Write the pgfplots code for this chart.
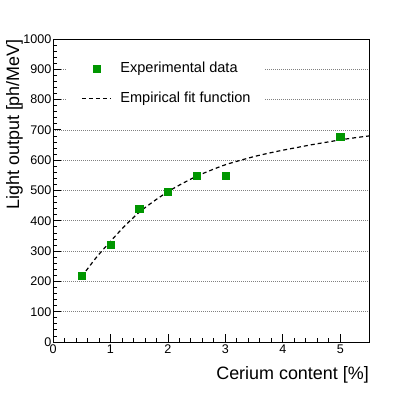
\documentclass[border=0pt]{standalone}
\usepackage{fontspec}
\setmainfont{Liberation Sans}
\usepackage{pgfplots}
\pgfplotsset{compat=1.18}
\definecolor{RootGreen}{HTML}{009600}
\definecolor{GridGray}{HTML}{808080}
\pgfplotsset{
  markimg/.style={legend image code/.code={\draw[##1] plot coordinates {(14.5bp,0bp)};}},
  lineimg/.style={legend image code/.code={\draw[##1] (0bp,0bp) -- (29bp,0bp);}},
}

\begin{document}
\begin{tikzpicture}
  \path[use as bounding box] (0,0) rectangle (411bp,393bp);
  \begin{axis}[
    name=ax,
    at={(53bp,51bp)}, anchor=south west,
    scale only axis,
    width=316bp, height=303bp,
    xmin=0, xmax=5.5, ymin=0, ymax=1000,
    xtick={0,1,2,3,4,5}, minor x tick num=4,
    ytick={0,100,...,1000}, minor y tick num=4,
    xtick pos=bottom, ytick pos=left,
    tick align=inside,
    major tick length=8bp, minor tick length=4bp,
    every tick/.style={black, line width=0.8bp},
    axis line style={line width=0.9bp},
    ymajorgrids,
    major grid style={GridGray, line width=0.6bp, dash pattern=on 1bp off 1bp},
    scaled ticks=false,
    /pgf/number format/assume math mode=true,
    /pgf/number format/1000 sep={},
    ticklabel style={font=\fontsize{12.6}{14}\selectfont},
    yticklabel style={inner xsep=1.5bp},
    xticklabel style={inner ysep=3bp},
    legend style={
      at={(axis cs:0.2437,951)}, anchor=north west,
      draw=none, fill=white,
      inner xsep=14bp, inner ysep=8bp,
      font=\fontsize{14.6}{16}\selectfont,
      row sep=16.5bp, column sep=9bp,
      nodes={inner sep=0pt, text height=10.5bp, text depth=3bp},
      cells={anchor=west},
    },
  ]
    % measured points
    \addplot[only marks, mark=square*, mark size=3.6bp, RootGreen, markimg]
      coordinates {(0.5,220) (1,320) (1.5,440) (2,497) (2.5,550) (3,550) (5,678)};
    \addlegendentry{Experimental data}
    % fit curve
    \addplot[black, line width=1.2bp, dash pattern=on 4bp off 3bp, smooth, lineimg]
      coordinates {(0.5,216) (0.75,278) (1.0,332) (1.25,383) (1.5,428)
        (1.75,464) (2.0,496) (2.25,523) (2.5,547) (2.75,567) (3.0,585)
        (3.25,599) (3.5,612) (3.75,623) (4.0,633) (4.25,642) (4.5,651)
        (4.75,659) (5.0,667) (5.25,674) (5.5,680)};
    \addlegendentry{Empirical fit function}
  \end{axis}
  \node[anchor=base east, font=\fontsize{18}{20}\selectfont, inner sep=0pt]
    at ([yshift=-37bp]ax.south east) {Cerium content [\%]};
  \node[rotate=90, anchor=base east, font=\fontsize{18}{20}\selectfont, inner sep=0pt]
    at ([xshift=-34bp]ax.north west) {Light output [ph/MeV]};
\end{tikzpicture}
\end{document}
